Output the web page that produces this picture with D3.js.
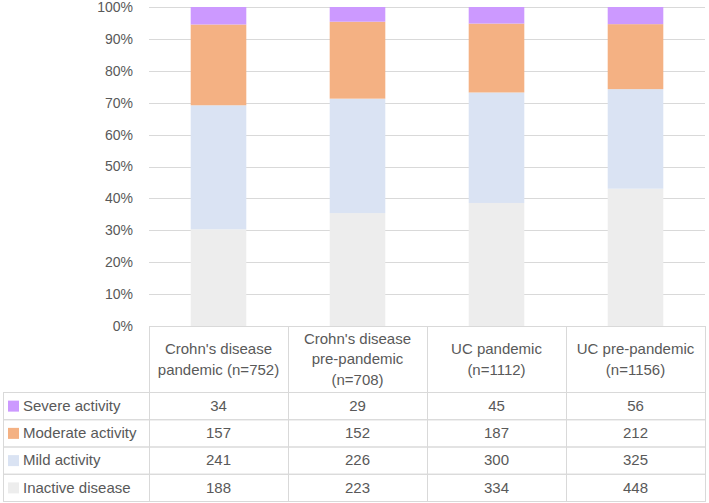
<!DOCTYPE html>
<html><head><meta charset="utf-8">
<script src="https://cdn.jsdelivr.net/npm/d3@7"></script>
<style>
html,body{margin:0;padding:0;background:#fff;}
svg text{font-family:"Liberation Sans",Arial,sans-serif;fill:#595959;}
</style></head>
<body><svg id="chart" width="709" height="503"></svg>
<script>
const categories = ["cdPan","cdPre","ucPan","ucPre"];
const categoryLines = [
  ["Crohn's disease","pandemic (n=752)"],
  ["Crohn's disease","pre-pandemic","(n=708)"],
  ["UC pandemic","(n=1112)"],
  ["UC pre-pandemic","(n=1156)"]
];
const seriesNames = ["Severe activity","Moderate activity","Mild activity","Inactive disease"];
const severe   = [34, 29, 45, 56];
const moderate = [157, 152, 187, 212];
const mild     = [241, 226, 300, 325];
const inactive = [188, 223, 334, 448];
const yTicks = [0,0.1,0.2,0.3,0.4,0.5,0.6,0.7,0.8,0.9,1];
const colors = {"Severe activity":"#CC99FF","Moderate activity":"#F4B183","Mild activity":"#DAE3F3","Inactive disease":"#EDEDED"};

const seriesValues = {"Severe activity":severe,"Moderate activity":moderate,"Mild activity":mild,"Inactive disease":inactive};
const rows = categories.map((c,i)=>{
  const r = {cat:c};
  seriesNames.forEach(s=> r[s]=seriesValues[s][i]);
  return r;
});
const stackKeys = ["Inactive disease","Mild activity","Moderate activity","Severe activity"];
const stacked = d3.stack().keys(stackKeys).offset(d3.stackOffsetExpand)(rows);

const svg = d3.select("#chart");
const pL = 149, pR = 705, pT = 7, pB = 326;
const x = d3.scaleBand().domain(categories).range([pL,pR]).paddingInner(0.6).paddingOuter(0.3);
const xCol = d3.scaleBand().domain(categories).range([pL,pR]).padding(0);
const y = d3.scaleLinear().domain([0,1]).range([pB,pT]);
const grid = "#D9D9D9";
const fs = "15px";

// gridlines
svg.append("g").selectAll("line").data(yTicks.filter(t=>t>0)).join("line")
  .attr("x1",pL).attr("x2",pR)
  .attr("y1",d=>Math.round(y(d))+0.5).attr("y2",d=>Math.round(y(d))+0.5)
  .attr("stroke",grid).attr("stroke-width",1);

// y labels
svg.append("g").selectAll("text").data(yTicks).join("text")
  .attr("x",133).attr("y",d=>y(d)).attr("dy","0.35em")
  .attr("text-anchor","end").style("font-size","14px")
  .text(d=>d3.format(".0%")(d));

// bars
svg.append("g").selectAll("g").data(stacked).join("g")
  .attr("fill",d=>colors[d.key])
  .selectAll("rect").data(d=>d).join("rect")
  .attr("x",d=>x(d.data.cat)).attr("width",x.bandwidth())
  .attr("y",d=>y(d[1])).attr("height",d=>y(d[0])-y(d[1]));

// table
const headerTop = pB, headerBottom = 392, rowH = 27.25, tableLeft = 3;
const tbl = svg.append("g");
tbl.selectAll("rect.h").data(categories).join("rect")
  .attr("x",d=>xCol(d)+0.5).attr("y",headerTop+0.5)
  .attr("width",xCol.bandwidth()).attr("height",headerBottom-headerTop)
  .attr("fill","none").attr("stroke",grid);
categories.forEach((c,i)=>{
  const lines = categoryLines[i];
  const cy = (headerTop+headerBottom)/2;
  const lh = 20.5;
  lines.forEach((t,j)=>{
    tbl.append("text")
      .attr("x",xCol(c)+xCol.bandwidth()/2)
      .attr("y",cy + (j-(lines.length-1)/2)*lh).attr("dy","0.35em")
      .attr("text-anchor","middle").style("font-size",fs).text(t);
  });
});
seriesNames.forEach((s,ri)=>{
  const ry = headerBottom + ri*rowH;
  tbl.append("rect").attr("x",tableLeft+0.5).attr("y",ry+0.5)
    .attr("width",pL-tableLeft).attr("height",rowH)
    .attr("fill","none").attr("stroke",grid);
  tbl.append("rect").attr("x",8).attr("y",ry+rowH/2-5)
    .attr("width",11).attr("height",11).attr("fill",colors[s]);
  tbl.append("text").attr("x",23).attr("y",ry+rowH/2).attr("dy","0.35em")
    .style("font-size",fs).text(s);
  categories.forEach((c,ci)=>{
    tbl.append("rect").attr("x",xCol(c)+0.5).attr("y",ry+0.5)
      .attr("width",xCol.bandwidth()).attr("height",rowH)
      .attr("fill","none").attr("stroke",grid);
    tbl.append("text").attr("x",xCol(c)+xCol.bandwidth()/2).attr("y",ry+rowH/2).attr("dy","0.35em")
      .attr("text-anchor","middle").style("font-size",fs).text(seriesValues[s][ci]);
  });
});
</script></body></html>
